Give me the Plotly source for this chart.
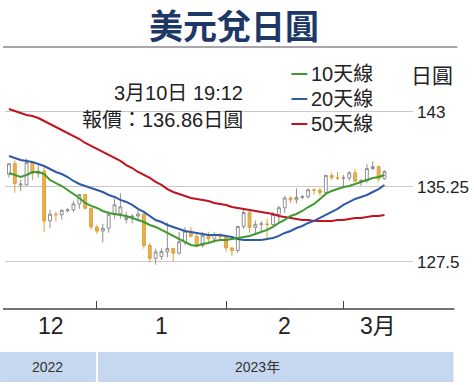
import plotly.graph_objects as go

# ---------------- data ----------------
dates = ["2022-12-12","2022-12-13","2022-12-14","2022-12-15","2022-12-16","2022-12-19","2022-12-20",
         "2022-12-21","2022-12-22","2022-12-23","2022-12-26","2022-12-27","2022-12-28","2022-12-29",
         "2022-12-30","2023-01-02","2023-01-03","2023-01-04","2023-01-05","2023-01-06","2023-01-09",
         "2023-01-10","2023-01-11","2023-01-12","2023-01-13","2023-01-16","2023-01-17","2023-01-18",
         "2023-01-19","2023-01-20","2023-01-23","2023-01-24","2023-01-25","2023-01-26","2023-01-27",
         "2023-01-30","2023-01-31","2023-02-01","2023-02-02","2023-02-03","2023-02-06","2023-02-07",
         "2023-02-08","2023-02-09","2023-02-10","2023-02-13","2023-02-14","2023-02-15","2023-02-16",
         "2023-02-17","2023-02-20","2023-02-21","2023-02-22","2023-02-23","2023-02-24","2023-02-27",
         "2023-02-28","2023-03-01","2023-03-02","2023-03-03","2023-03-06","2023-03-07","2023-03-08",
         "2023-03-09","2023-03-10"]

opens = [136.55,137.67,135.45,135.47,137.78,136.64,136.89,131.75,132.44,132.38,132.79,132.90,133.50,
         134.47,133.05,131.10,130.70,130.98,132.43,132.50,131.90,132.10,132.25,132.46,129.20,127.88,
         128.05,128.55,128.88,128.41,129.59,130.68,130.16,129.20,130.25,129.88,130.35,130.09,128.95,
         128.68,131.17,132.61,131.07,131.39,131.43,131.37,132.41,133.10,134.11,133.93,134.17,134.25,
         134.97,134.92,134.68,136.45,136.20,136.17,136.18,136.72,135.85,135.90,137.15,137.35,136.10]
highs = [137.72,138.00,135.99,138.18,137.83,137.48,137.47,132.88,132.71,132.95,133.06,133.82,134.50,
         134.51,133.10,131.34,131.44,132.73,134.05,134.60,132.67,132.44,132.87,132.62,129.48,128.88,
         128.90,131.58,128.98,130.60,131.12,131.12,130.48,130.63,130.62,130.60,130.48,130.17,129.05,
         131.20,132.90,132.88,131.77,131.71,131.94,132.62,133.32,134.34,134.28,135.10,134.45,135.10,
         135.10,135.20,136.50,136.70,136.80,136.50,136.88,137.10,136.10,137.60,137.90,137.45,136.97]
lows = [136.22,134.66,134.83,135.37,135.96,136.22,130.58,130.99,131.68,131.86,132.60,132.65,133.00,
        132.90,130.84,130.40,129.52,130.53,131.99,131.98,131.49,131.48,131.85,128.86,127.47,127.22,
        127.70,127.98,127.58,128.25,129.25,130.03,129.02,129.00,129.50,129.50,129.75,128.56,128.08,
        128.45,130.92,130.50,130.47,130.57,129.80,131.20,131.51,132.55,133.60,133.55,134.00,134.07,
        134.45,134.35,134.60,135.95,135.95,135.27,135.90,135.80,135.37,135.65,137.00,135.80,136.00]
closes = [137.65,135.60,135.55,137.78,136.65,136.88,131.74,132.44,132.39,132.84,132.90,133.50,134.47,
          133.05,131.12,130.69,130.98,132.43,133.41,133.20,132.10,132.25,132.46,129.20,127.88,128.53,
          128.60,128.88,128.41,129.59,130.68,130.16,129.20,130.25,129.88,130.35,130.09,128.95,128.68,
          131.17,132.61,131.07,131.39,131.43,131.37,132.41,133.10,134.11,133.93,134.17,134.25,134.97,
          134.92,134.68,136.45,136.20,136.17,136.18,136.72,135.85,135.90,137.15,137.35,136.10,136.86]

ma10 = [136.70,136.49,136.28,136.49,136.80,136.80,136.59,135.97,135.66,135.35,134.94,134.53,134.11,
        133.60,133.29,133.08,132.77,132.56,132.46,132.36,132.25,132.05,131.84,131.63,131.32,131.12,
        130.81,130.50,130.19,129.88,129.57,129.26,129.15,129.36,129.46,129.67,129.77,129.77,129.88,
        129.98,130.08,130.19,130.39,130.60,130.81,131.12,131.53,131.84,132.25,132.46,132.77,133.18,
        133.49,134.01,134.53,134.84,135.04,135.25,135.35,135.56,135.77,135.97,136.18,136.28,136.49]
ma20 = [138.45,138.25,138.04,137.94,137.83,137.63,137.42,137.11,136.80,136.59,136.28,135.87,135.56,
        135.35,135.15,134.94,134.73,134.42,134.22,133.91,133.70,133.39,132.98,132.67,132.25,131.84,
        131.63,131.32,131.12,130.91,130.70,130.60,130.50,130.39,130.29,130.29,130.29,130.19,130.08,
        129.88,129.77,129.77,129.77,129.77,129.88,129.98,130.19,130.50,130.70,131.01,131.22,131.53,
        131.74,132.05,132.36,132.67,132.98,133.39,133.70,134.01,134.22,134.42,134.73,135.04,135.46]
ma50 = [143.31,143.10,142.90,142.69,142.59,142.38,142.07,141.76,141.45,141.14,140.83,140.52,140.21,
        139.80,139.49,139.18,138.87,138.56,138.25,137.94,137.52,137.21,136.80,136.49,136.18,135.77,
        135.46,135.04,134.73,134.53,134.32,134.11,134.01,133.91,133.80,133.60,133.49,133.39,133.18,
        133.08,132.98,132.87,132.77,132.67,132.56,132.46,132.25,132.15,132.05,131.94,131.84,131.84,
        131.74,131.74,131.74,131.74,131.84,131.84,131.94,132.05,132.05,132.15,132.25,132.25,132.36]

y_ticks = [127.5, 135.25, 143]
y_tick_text = ["127.5", "135.25", "143"]
month_labels = ["12", "1", "2", "3月"]
year_labels = ["2022", "2023年"]
ma_names = ["10天線", "20天線", "50天線"]
title_text = "美元兌日圓"
unit_text = "日圓"
quote_time = "3月10日 19:12"
quote_text = "報價：136.86日圓"

# ---------------- layout helpers ----------------
W, H = 474, 385
ML, MR, MT, MB = 5, 56, 55, 76
PW, PH = W - ML - MR, H - MT - MB

def px_x(p):
    return (p - ML) / PW

def px_y(p):
    return (H - MB - p) / PH

XMIN, XMAX = -0.67, 68.86
YMIN, YMAX = 122.64, 148.89

def dx_paper(v):
    return (v - XMIN) / (XMAX - XMIN)

FONT = "Liberation Sans Narrow, Arial Narrow, Liberation Sans, Noto Sans CJK TC, sans-serif"
CJK = "Noto Sans CJK TC, Noto Sans CJK SC, sans-serif"
GREEN, BLUE, RED = "#3f9a2e", "#2f5aa8", "#c0121f"
ORANGE = "#e9b04c"

xs = list(range(len(dates)))

# month boundaries from dates
month_starts = [i for i in range(1, len(dates)) if dates[i][:7] != dates[i - 1][:7]]
seg_edges = [XMIN] + month_starts + [XMAX]
label_pos = [(seg_edges[k] + seg_edges[k + 1]) / 2 for k in range(len(seg_edges) - 1)]

fig = go.Figure()
fig.add_trace(go.Candlestick(
    x=xs, open=opens, high=highs, low=lows, close=closes,
    increasing=dict(line=dict(color="#8f8f8f", width=1), fillcolor="white"),
    decreasing=dict(line=dict(color="#dca23e", width=1), fillcolor=ORANGE),
    showlegend=False, hoverinfo="skip"))
for vals, col in [(ma50, RED), (ma20, BLUE), (ma10, GREEN)]:
    fig.add_trace(go.Scatter(x=xs, y=vals, mode="lines", line=dict(color=col, width=2),
                             showlegend=False, hoverinfo="skip"))

shapes = []
annotations = []

# title and rule
annotations.append(dict(text="<b>" + title_text + "</b>", x=px_x(237), y=px_y(24), xref="paper", yref="paper",
                        showarrow=False, xanchor="center", yanchor="middle",
                        font=dict(family=CJK, size=34, color="#1d3767")))
shapes.append(dict(type="line", xref="paper", yref="paper", x0=px_x(3), x1=px_x(463),
                   y0=px_y(47), y1=px_y(47), line=dict(color="#8a8a8a", width=1.5)))

# quote text
annotations.append(dict(text=quote_time, x=px_x(248), y=px_y(93), xref="paper", yref="paper",
                        showarrow=False, xanchor="right", yanchor="middle",
                        font=dict(family=FONT, size=20, color="#222")))
annotations.append(dict(text=quote_text, x=px_x(248), y=px_y(120), xref="paper", yref="paper",
                        showarrow=False, xanchor="right", yanchor="middle",
                        font=dict(family=FONT, size=20, color="#222")))

# legend
for k, (name, col) in enumerate(zip(ma_names, [GREEN, BLUE, RED])):
    yc = 74 + 25 * k
    shapes.append(dict(type="line", xref="paper", yref="paper", x0=px_x(295), x1=px_x(311),
                       y0=px_y(yc), y1=px_y(yc), line=dict(color=col, width=2)))
    annotations.append(dict(text=name, x=px_x(313), y=px_y(yc), xref="paper", yref="paper",
                            showarrow=False, xanchor="left", yanchor="middle",
                            font=dict(family=FONT, size=20, color="#222")))

annotations.append(dict(text=unit_text, x=px_x(437), y=px_y(74), xref="paper", yref="paper",
                        showarrow=False, xanchor="center", yanchor="middle",
                        font=dict(family=CJK, size=21, color="#222")))

# x axis base line
shapes.append(dict(type="line", xref="paper", yref="paper", x0=px_x(3), x1=px_x(460),
                   y0=0, y1=0, line=dict(color="#444", width=1.3)))

# month labels
for lab, pos in zip(month_labels, label_pos):
    annotations.append(dict(text=lab, x=pos, y=px_y(326), xref="x", yref="paper",
                            showarrow=False, xanchor="center", yanchor="middle",
                            font=dict(family=FONT, size=23, color="#222")))

# year bands
band_split = dx_paper(month_starts[0])
bands = [(px_x(0), band_split - 1 / PW), (band_split + 1 / PW, px_x(459))]
band_text_x = [px_x(48), px_x(261)]
for (x0, x1), lab, tx in zip(bands, year_labels, band_text_x):
    shapes.append(dict(type="rect", xref="paper", yref="paper", x0=x0, x1=x1,
                       y0=px_y(382), y1=px_y(352), fillcolor="#c6d8ef", line=dict(width=0), layer="below"))
    annotations.append(dict(text=lab, x=tx, y=px_y(367), xref="paper", yref="paper",
                            showarrow=False, xanchor="center", yanchor="middle",
                            font=dict(family=FONT, size=14, color="#333")))

fig.update_layout(
    width=W, height=H,
    margin=dict(l=ML, r=MR, t=MT, b=MB, pad=0),
    paper_bgcolor="white", plot_bgcolor="white",
    showlegend=False,
    shapes=shapes, annotations=annotations,
    xaxis=dict(range=[XMIN, XMAX], rangeslider=dict(visible=False), showgrid=False, zeroline=False,
               showline=False, tickmode="array", tickvals=month_starts, ticktext=[""] * len(month_starts),
               ticks="inside", ticklen=8, tickwidth=1.2, tickcolor="#444", fixedrange=True),
    yaxis=dict(range=[YMIN, YMAX], side="right", tickmode="array", tickvals=y_ticks, ticktext=y_tick_text,
               showgrid=True, gridcolor="#c9c9c9", gridwidth=1, zeroline=False, showline=False,
               ticks="", ticklabelstandoff=3, tickfont=dict(family=FONT, size=17, color="#222"),
               fixedrange=True),
)

fig.write_html("out.html", config={"displayModeBar": False, "responsive": False},
               post_script="document.body.style.margin='0';document.body.style.overflow='hidden';")
